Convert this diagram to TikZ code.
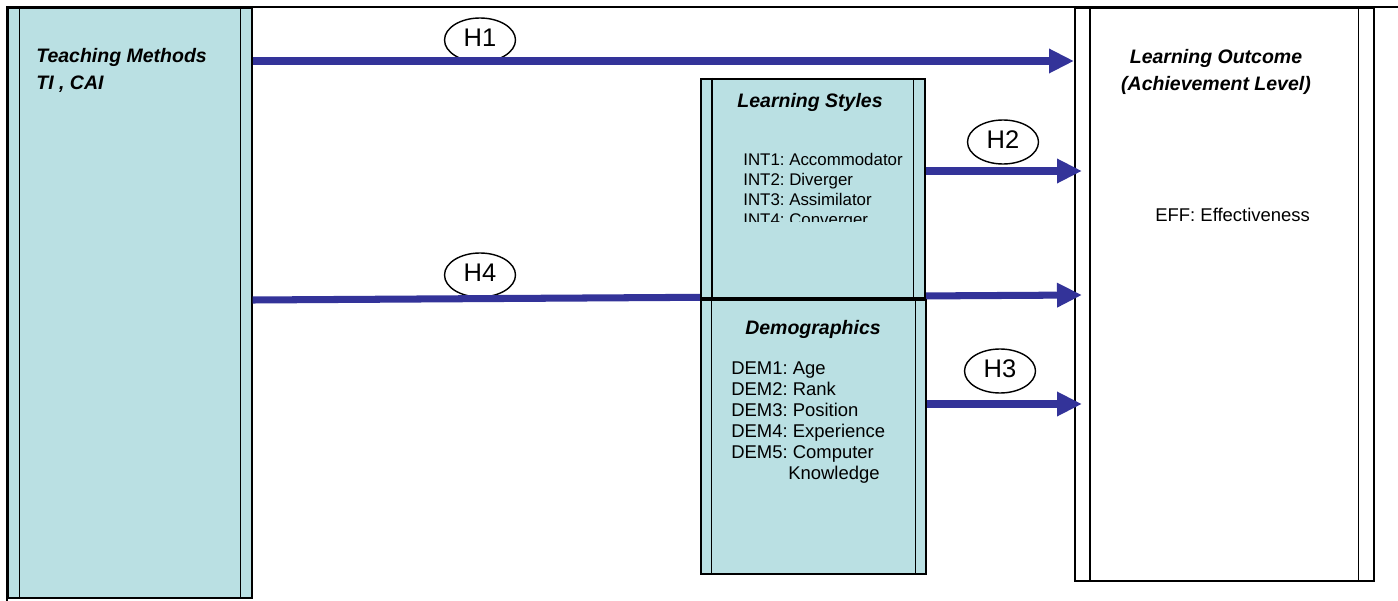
\documentclass[tikz,border=0pt]{standalone}
\usepackage{fontspec}
\setmainfont{Liberation Sans}
\usetikzlibrary{shapes.geometric, arrows.meta, positioning}
\definecolor{boxfill}{RGB}{186,224,227}
\definecolor{linkblue}{RGB}{51,51,153}
\definecolor{ink}{RGB}{0,0,0}
\frenchspacing

\tikzset{
  procbox/.style={draw=ink, line width=1pt, fill=boxfill, rectangle, inner sep=0pt, anchor=north west},
  resultbox/.style={procbox, fill=white},
  hypo/.style={draw=ink, ellipse, line width=0.8pt, fill=white, minimum width=1.42cm, minimum height=0.88cm, inner sep=0pt, text depth=3pt, font=\fontsize{14.5}{16}\selectfont},
  link/.style={draw=linkblue, line width=4pt, -{Triangle[length=0.5cm, width=0.46cm]}},
  boxtitle/.style={font=\fontsize{11.1}{15.9}\selectfont\bfseries\itshape, inner sep=0pt},
  itemlist/.style={align=left, inner sep=0pt, anchor=base west},
}

\begin{document}
\begin{tikzpicture}[x=0.02cm, y=-0.02cm]
  \useasboundingbox (0,0) rectangle (1398,601);

  % cadre
  \draw[ink, line width=1pt] (7,601) -- (7,7) -- (1398,7);

  % blocs gauche et droite
  \node[procbox, minimum width=4.88cm, minimum height=11.8cm] (teach) at (7,7) {};
  \node[resultbox, minimum width=5.98cm, minimum height=11.46cm] (outcome) at (1074,7) {};

  % hypotheses
  \node[hypo] (h1) at (480,40) {H1};
  \node[hypo] (h2) at (1003,142) {H2};
  \node[hypo] (h3) at (1000,371) {H3};
  \node[hypo] (h4) at (480,275) {H4};

  % H4 passe sous les blocs du milieu
  \draw[link] (teach.east |- 0,300) -- ([xshift=0.16cm]outcome.west |- 0,295);

  % blocs du milieu
  \node[procbox, minimum width=4.48cm, minimum height=4.38cm] (styles) at (700,78) {};
  \node[procbox, minimum width=4.5cm, minimum height=5.48cm] (demo) at (700,299) {};

  % doubles bords verticaux
  \foreach \b/\d in {teach/0.25cm, styles/0.24cm, demo/0.23cm, outcome/0.32cm} {
    \draw[ink, line width=0.8pt] ([xshift=\d]\b.north west) -- ([xshift=\d]\b.south west);
    \draw[ink, line width=0.8pt] ([xshift=-\d]\b.north east) -- ([xshift=-\d]\b.south east);
  }

  % fleches H1, H2, H3
  \draw[link] (teach.east |- 0,61) -- (outcome.west |- 0,61);
  \draw[link] (styles.east |- 0,171) -- ([xshift=0.16cm]outcome.west |- 0,171);
  \draw[link] (demo.east |- 0,404) -- ([xshift=0.16cm]outcome.west |- 0,404);

  % textes (base = ligne du bas)
  \node[boxtitle, anchor=base west, align=left] (teachtitle) at (36,90) {Teaching Methods\\TI , CAI};
  \node[boxtitle, anchor=base, align=center] (outtitle) at (1216,91) {Learning Outcome\\(Achievement Level)};
  \node[itemlist, font=\fontsize{10.5}{12}\selectfont] (eff) at (1155,221) {EFF: Effectiveness};

  \node[boxtitle, anchor=base] (stylestitle) at (810,108) {Learning Styles};
  \begin{scope}
    \clip (styles.north west) rectangle (styles.east |- 0,221);
    \node[itemlist, font=\fontsize{9.6}{11.3}\selectfont] (stylesitems) at (743,225)
      {INT1: Accommodator\\INT2: Diverger\\INT3: Assimilator\\INT4: Converger};
  \end{scope}

  \node[boxtitle, anchor=base] (demotitle) at (813,334) {Demographics};
  \node[itemlist, font=\fontsize{10.5}{11.9}\selectfont] (demoitems) at (731,479)
    {DEM1: Age\\DEM2: Rank\\DEM3: Position\\DEM4: Experience\\DEM5: Computer\\\hspace*{1.14cm}Knowledge};
\end{tikzpicture}
\end{document}
